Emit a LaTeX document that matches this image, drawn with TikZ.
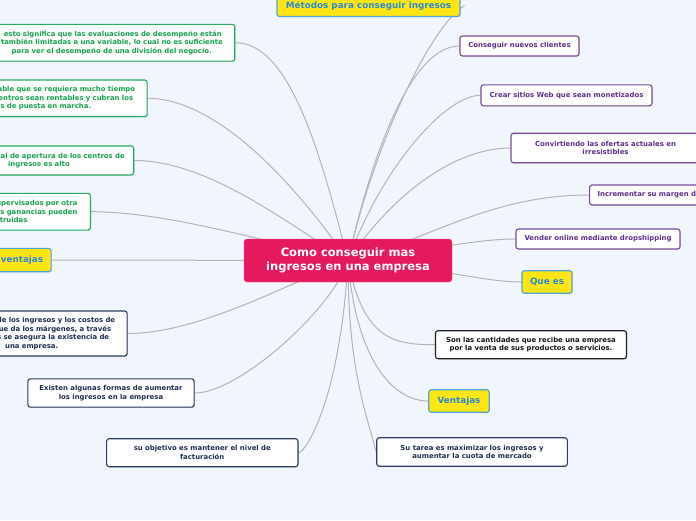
\documentclass[tikz,border=0pt]{standalone}
\usepackage{fontspec}
\setmainfont{DejaVu Sans}
\usetikzlibrary{shadows}
\pgfdeclarelayer{bg}
\pgfsetlayers{bg,main}
\definecolor{bgc}{RGB}{241,245,253}
\definecolor{linec}{RGB}{180,180,180}
\definecolor{rootc}{RGB}{228,25,94}
\definecolor{subfill}{RGB}{255,229,20}
\definecolor{subbd}{RGB}{80,165,220}
\definecolor{subtx}{RGB}{40,140,210}
\definecolor{purptx}{RGB}{95,45,140}
\definecolor{purpbd}{RGB}{120,75,160}
\definecolor{grntx}{RGB}{25,160,80}
\definecolor{grnbd}{RGB}{40,170,95}
\definecolor{navytx}{RGB}{30,45,80}
\definecolor{navybd}{RGB}{45,60,100}
\definecolor{blktx}{RGB}{20,20,20}
\definecolor{blkbd}{RGB}{30,30,30}
\tikzset{
  conn/.style={draw=linec,line width=1pt},
  box/.style={draw,fill=white,rounded corners=2.5pt,line width=1.1pt,align=center,
    inner xsep=8pt,inner ysep=2pt,font=\fontsize{6.9}{8.6}\selectfont\bfseries,
    drop shadow={shadow xshift=.7pt,shadow yshift=-.7pt,opacity=.25}},
  purp/.style={box,draw=purpbd,text=purptx},
  grn/.style={box,draw=grnbd,text=grntx},
  navy/.style={box,draw=navybd,text=navytx},
  blk/.style={box,draw=blkbd,text=blktx},
  sub/.style={box,draw=subbd,fill=subfill,text=subtx,font=\fontsize{8.8}{10}\selectfont\bfseries},
  root/.style={draw=rootc!70!white,fill=rootc,rounded corners=3pt,text=white,align=center,
    font=\fontsize{11.5}{13.5}\selectfont\bfseries,minimum width=208pt,minimum height=43pt}
}

\begin{document}
\begin{tikzpicture}[x=1pt,y=-1pt]
\useasboundingbox (0,0) rectangle (696,520);
\clip (0,0) rectangle (696,520);
\node[root] (c) at (348,260.5) {Como conseguir mas\\ingresos en una empresa};
% metodos
\node[sub,minimum width=183pt,minimum height=22pt] (mt) at (368.5,5.5) {Métodos para conseguir ingresos};
\node[purp,minimum width=119pt,minimum height=20pt] (m1) at (519.5,46) {Conseguir nuevos clientes};
\node[purp,minimum width=171pt,minimum height=21pt] (m2) at (566.5,95.3) {Crear sitios Web que sean monetizados};
\node[purp,minimum width=189pt,minimum height=29.5pt] (m3) at (605.5,148) {Convirtiendo las ofertas actuales en\\irresistibles};
\node[purp,anchor=west,text width=160pt,align=left,minimum height=20pt] (m4) at (589,195) {Incrementar su margen de};
\node[purp,minimum width=164pt,minimum height=20pt] (m5) at (598,239) {Vender online mediante dropshipping};
% que es
\node[sub,minimum width=50pt,minimum height=22.5pt] (q) at (547,282) {Que es};
\node[blk,minimum width=191pt,minimum height=28pt] (q1) at (531,344.7) {Son las cantidades que recibe una empresa\\por la venta de sus productos o servicios.};
% ventajas
\node[sub,minimum width=60.5pt,minimum height=22.5pt] (v) at (459,401) {Ventajas};
\node[navy,minimum width=190.6pt,minimum height=28.5pt] (v1) at (472,452) {Su tarea es maximizar los ingresos y\\aumentar la cuota de mercado};
\node[navy,minimum width=191.3pt,minimum height=28pt] (v2) at (202.3,452.7) {su objetivo es mantener el nivel de\\facturación};
\node[navy,minimum width=166.3pt,minimum height=28.3pt] (v3) at (111,393) {Existen algunas formas de aumentar\\los ingresos en la empresa};
\node[navy,anchor=east,text width=170pt,align=right,minimum height=45pt] (v4) at (127.7,333.5) {de los ingresos y los costos de\kern4pt\\ue da los márgenes, a través\kern8pt\\s se asegura la existencia de\kern10pt\\una empresa.\kern61pt};
% desventajas
\node[sub,anchor=east,text width=70pt,align=right,minimum height=23.4pt] (d) at (51.7,260) {ventajas};
\node[grn,anchor=east,text width=130pt,align=right,minimum height=36.7pt] (d1) at (91,211.7) {upervisados por otra\kern5pt\\s ganancias pueden\kern5pt\\etruidas\kern55pt};
\node[grn,anchor=east,text width=170pt,align=right,minimum height=29pt] (d2) at (134.3,160.5) {ial de apertura de los centros de\kern1pt\\ingresos es alto\kern56pt};
\node[grn,anchor=east,text width=180pt,align=right,minimum height=36.7pt] (d3) at (147.7,98.3) {able que se requiera mucho tiempo\kern4pt\\entros sean rentables y cubran los\kern6pt\\s de puesta en marcha.\kern48pt};
\node[grn,anchor=east,text width=250pt,align=right,minimum height=36.7pt] (d4) at (235.3,42.7) {esto significa que las evaluaciones de desempeño están\kern5pt\\también limitadas a una variable, lo cual no es suficiente\kern4pt\\para ver el desempeño de una división del negocio.\kern15pt};

\begin{pgfonlayer}{bg}
\fill[bgc] (0,0) rectangle (696,520);
\coordinate (mtend) at ([xshift=4pt]mt.east);
\draw[conn] (c.center) .. controls +(27,-120) and +(-33,20) .. (mtend);
\draw[conn] (c.center) .. controls +(27,-120) and +(-45,0) .. (m1.west);
\draw[conn] (c.center) .. controls +(32,-90) and +(-36,0) .. (m2.west);
\draw[conn] (c.center) .. controls +(40,-60) and +(-60,0) .. (m3.west);
\draw[conn] (c.center) .. controls +(80,-20) and +(-100,0) .. (m4.west);
\draw[conn] (c.center) .. controls +(80,-10) and +(-40,0) .. (m5.west);
\draw[conn] (c.center) .. controls +(80,5) and +(-40,0) .. (q.west);
\draw[conn] (c.center) .. controls +(15,80) and +(-40,0) .. (q1.west);
\draw[conn] (c.center) .. controls +(8,100) and +(-35,0) .. (v.west);
\draw[conn] (c.center) .. controls +(0,110) and +(-10,-40) .. (v1.west);
\draw[conn] (c.center) .. controls +(-8,140) and +(7,0) .. (v2.east);
\draw[conn] (c.center) .. controls +(-13,45) and +(46,0) .. (v3.east);
\draw[conn] (c.center) .. controls +(-58,22) and +(72,0) .. (v4.east);
\draw[conn] (c.center) -- (d.east);
\draw[conn] (c.center) .. controls +(-68,-15) and +(79,0) .. (d1.east);
\draw[conn] (c.center) .. controls +(-58,-35) and +(75,0) .. (d2.east);
\draw[conn] (c.center) .. controls +(-48,-70) and +(72,0) .. (d3.east);
\draw[conn] (c.center) .. controls +(-28,-110) and +(54,0) .. (d4.east);
\end{pgfonlayer}
\end{tikzpicture}
\end{document}
